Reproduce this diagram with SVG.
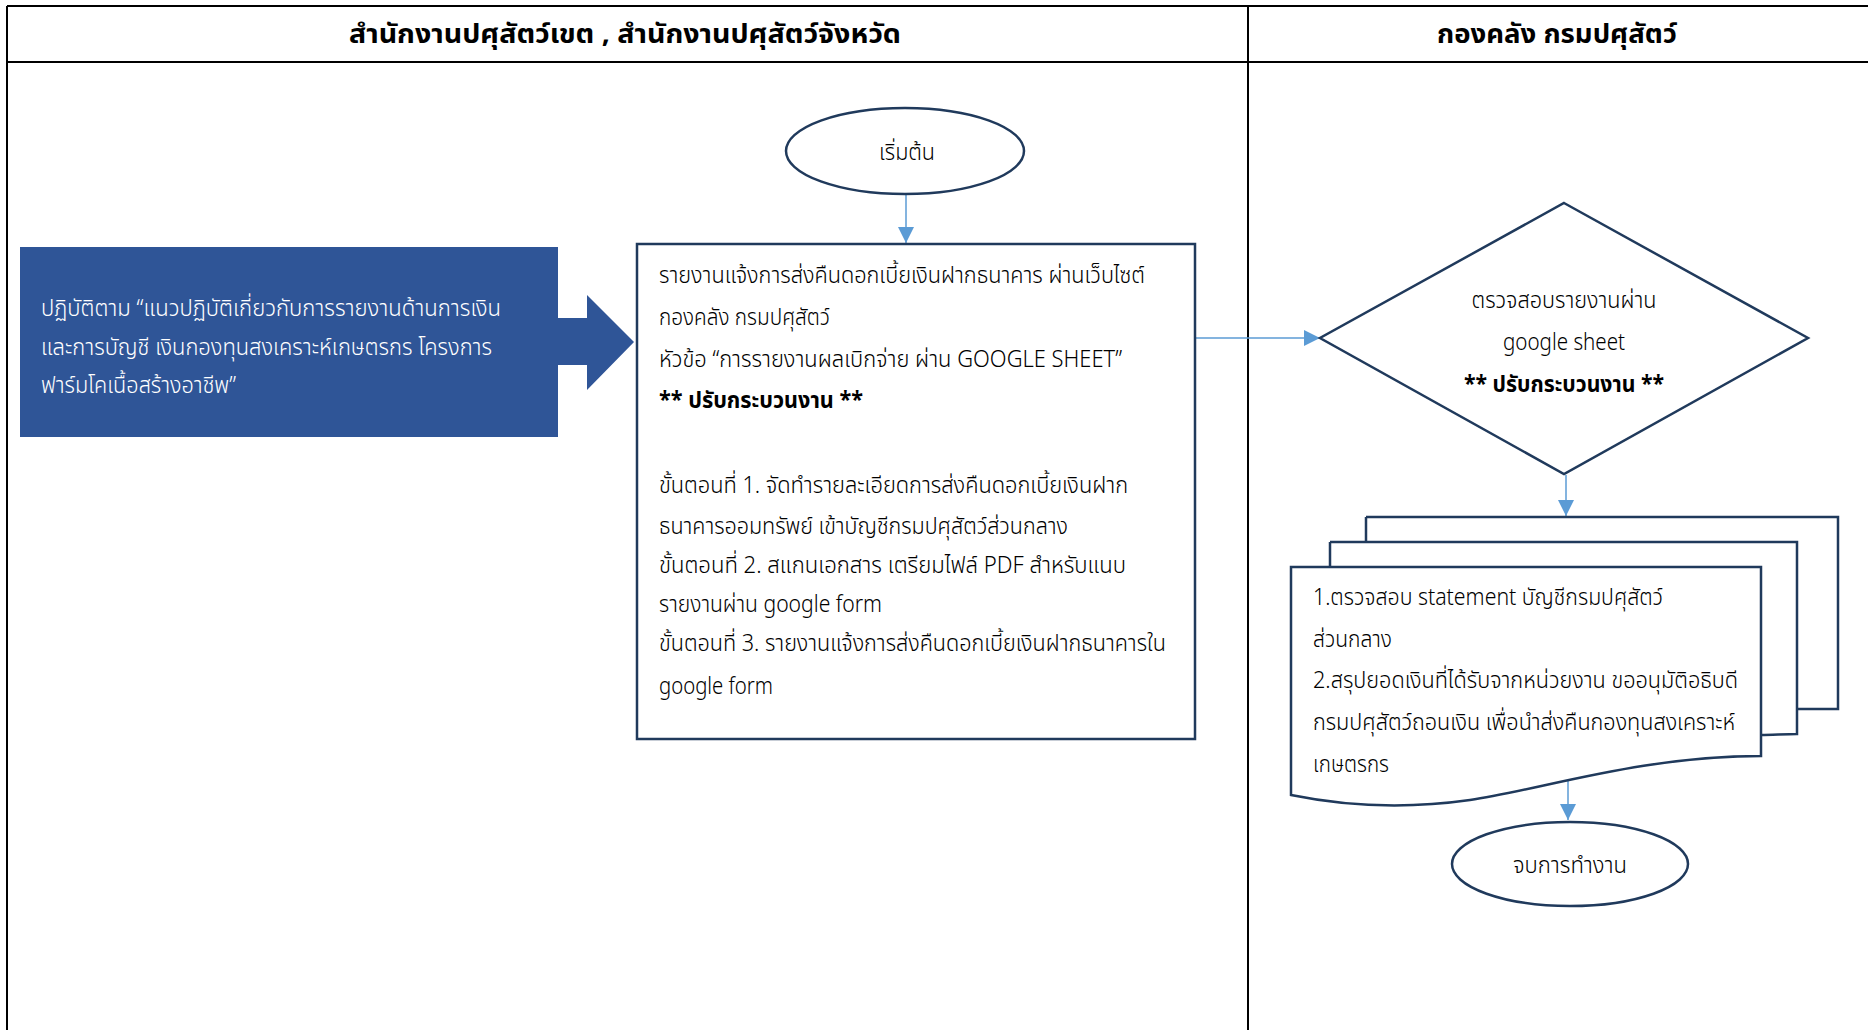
<svg xmlns="http://www.w3.org/2000/svg" width="1868" height="1030" viewBox="0 0 1868 1030">
<defs>
<style>
text{font-family:"Noto Sans Thai","Leelawadee UI",Tahoma,"Noto Sans","DejaVu Sans",sans-serif;fill:#000}
.h{font-size:26px;font-weight:bold}
.t{font-size:23px;font-weight:300}
.b{font-weight:bold}
.w{fill:#fff}
.shape{fill:#fff;stroke:#203A5C;stroke-width:2.5}
.conn{stroke:#5B9BD5;stroke-width:1.5;fill:none}
.grid{stroke:#000;stroke-width:2;fill:none}
</style>
<marker id="ah" markerUnits="userSpaceOnUse" markerWidth="16" markerHeight="16" refX="16" refY="8" orient="auto">
<path d="M0,0 L16,8 L0,16 Z" fill="#5B9BD5"/>
</marker>
</defs>
<rect width="1868" height="1030" fill="#fff"/>
<g id="table">
<path class="grid" d="M7,6 H1868 M7,62 H1868 M7,6 V1030 M1248,6 V1030"/>
<text class="h" x="625" y="43" text-anchor="middle" textLength="552" lengthAdjust="spacingAndGlyphs">สำนักงานปศุสัตว์เขต , สำนักงานปศุสัตว์จังหวัด</text>
<text class="h" x="1557" y="43" text-anchor="middle" textLength="240" lengthAdjust="spacingAndGlyphs">กองคลัง กรมปศุสัตว์</text>
</g>
<g id="connectors">
<line class="conn" x1="906" y1="194" x2="906" y2="243" marker-end="url(#ah)"/>
<line class="conn" x1="1195" y1="338" x2="1320" y2="338" marker-end="url(#ah)"/>
<line class="conn" x1="1566" y1="475" x2="1566" y2="516" marker-end="url(#ah)"/>
<line class="conn" x1="1568" y1="779" x2="1568" y2="820" marker-end="url(#ah)"/>
</g>
<g id="start">
<ellipse class="shape" cx="905" cy="151" rx="119" ry="43"/>
<text class="t" x="907" y="160" text-anchor="middle" textLength="56" lengthAdjust="spacingAndGlyphs">เริ่มต้น</text>
</g>
<g id="guideline">
<rect x="20" y="247" width="538" height="190" fill="#2F5597"/>
<polygon points="557,318 587,318 587,295 634,342 587,390 587,365 557,365" fill="#2F5597"/>
<text class="t w" x="41" y="316" textLength="460" lengthAdjust="spacingAndGlyphs">ปฏิบัติตาม “แนวปฏิบัติเกี่ยวกับการรายงานด้านการเงิน</text>
<text class="t w" x="41" y="355" textLength="451" lengthAdjust="spacingAndGlyphs">และการบัญชี เงินกองทุนสงเคราะห์เกษตรกร โครงการ</text>
<text class="t w" x="41" y="393" textLength="195" lengthAdjust="spacingAndGlyphs">ฟาร์มโคเนื้อสร้างอาชีพ”</text>
</g>
<g id="report">
<rect class="shape" x="637" y="244" width="558" height="495"/>
<text class="t" x="659" y="283" textLength="486" lengthAdjust="spacingAndGlyphs">รายงานแจ้งการส่งคืนดอกเบี้ยเงินฝากธนาคาร ผ่านเว็บไซต์</text>
<text class="t" x="659" y="325" textLength="171" lengthAdjust="spacingAndGlyphs">กองคลัง กรมปศุสัตว์</text>
<text class="t" x="659" y="367" textLength="463" lengthAdjust="spacingAndGlyphs">หัวข้อ “การรายงานผลเบิกจ่าย ผ่าน GOOGLE SHEET”</text>
<text class="t b" x="659" y="408" textLength="204" lengthAdjust="spacingAndGlyphs">** ปรับกระบวนงาน **</text>
<text class="t" x="659" y="493" textLength="469" lengthAdjust="spacingAndGlyphs">ขั้นตอนที่ 1. จัดทำรายละเอียดการส่งคืนดอกเบี้ยเงินฝาก</text>
<text class="t" x="659" y="534" textLength="409" lengthAdjust="spacingAndGlyphs">ธนาคารออมทรัพย์ เข้าบัญชีกรมปศุสัตว์ส่วนกลาง</text>
<text class="t" x="659" y="573" textLength="467" lengthAdjust="spacingAndGlyphs">ขั้นตอนที่ 2. สแกนเอกสาร เตรียมไฟล์ PDF สำหรับแนบ</text>
<text class="t" x="659" y="612" textLength="223" lengthAdjust="spacingAndGlyphs">รายงานผ่าน google form</text>
<text class="t" x="659" y="651" textLength="507" lengthAdjust="spacingAndGlyphs">ขั้นตอนที่ 3. รายงานแจ้งการส่งคืนดอกเบี้ยเงินฝากธนาคารใน</text>
<text class="t" x="659" y="694" textLength="114" lengthAdjust="spacingAndGlyphs">google form</text>
</g>
<g id="check">
<polygon class="shape" points="1564,203 1808,338 1564,474 1320,338"/>
<text class="t" x="1564" y="308" text-anchor="middle" textLength="185" lengthAdjust="spacingAndGlyphs">ตรวจสอบรายงานผ่าน</text>
<text class="t" x="1564" y="350" text-anchor="middle" textLength="122" lengthAdjust="spacingAndGlyphs">google sheet</text>
<text class="t b" x="1564" y="392" text-anchor="middle" textLength="200" lengthAdjust="spacingAndGlyphs">** ปรับกระบวนงาน **</text>
</g>
<g id="documents">
<path class="shape" d="M1366,517 H1838 V709 H1797"/>
<path class="shape" d="M1366,542 V517" fill="none"/>
<path class="shape" d="M1330,542 H1797 V734 C1785,734 1772,735 1761,735 M1330,542 V567"/>
<path class="shape" d="M1291,567 H1761 V756 C1640,756 1540,790 1470,800 C1400,810 1340,805 1291,795 Z"/>
<text class="t" x="1313" y="605" textLength="350" lengthAdjust="spacingAndGlyphs">1.ตรวจสอบ statement บัญชีกรมปศุสัตว์</text>
<text class="t" x="1313" y="647" textLength="79" lengthAdjust="spacingAndGlyphs">ส่วนกลาง</text>
<text class="t" x="1313" y="688" textLength="425" lengthAdjust="spacingAndGlyphs">2.สรุปยอดเงินที่ได้รับจากหน่วยงาน ขออนุมัติอธิบดี</text>
<text class="t" x="1313" y="730" textLength="422" lengthAdjust="spacingAndGlyphs">กรมปศุสัตว์ถอนเงิน เพื่อนำส่งคืนกองทุนสงเคราะห์</text>
<text class="t" x="1313" y="772" textLength="76" lengthAdjust="spacingAndGlyphs">เกษตรกร</text>
</g>
<g id="end">
<ellipse class="shape" cx="1570" cy="864" rx="118" ry="42"/>
<text class="t" x="1570" y="873" text-anchor="middle" textLength="114" lengthAdjust="spacingAndGlyphs">จบการทำงาน</text>
</g>
</svg>
